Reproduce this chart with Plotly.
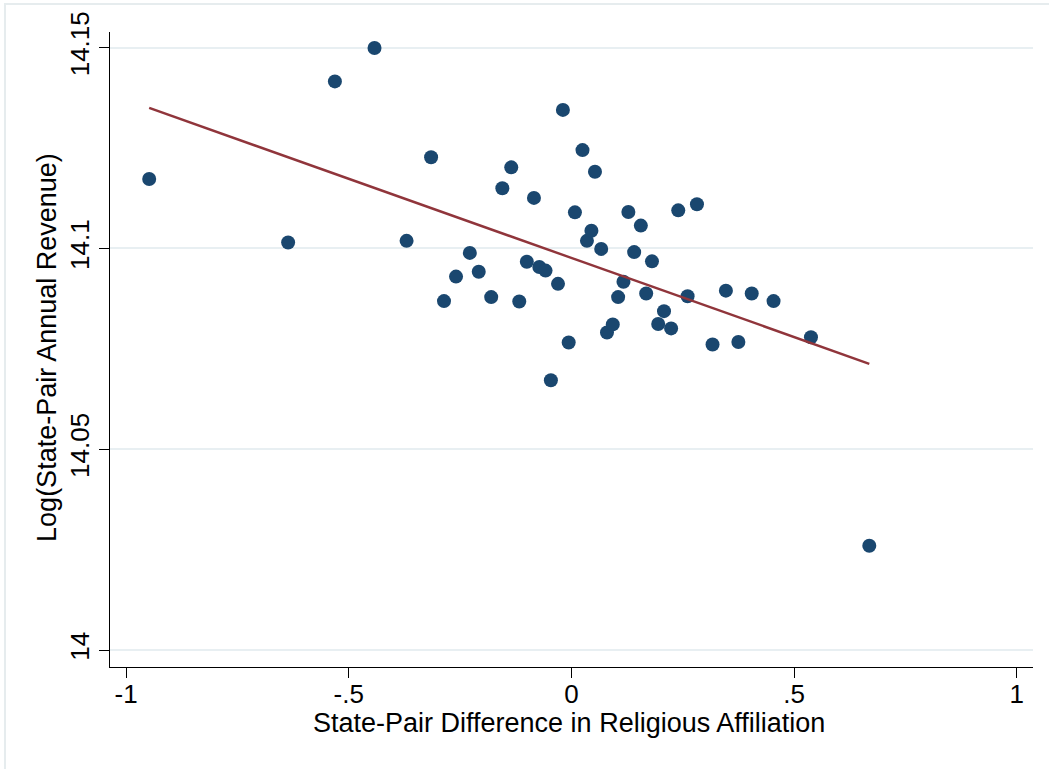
import plotly.graph_objects as go

# Religious affiliation difference (x) vs log annual revenue (y), one point per state pair
religion_diff = [
    -0.948, -0.636, -0.531, -0.442, -0.315, -0.370, -0.228, -0.259, -0.208, -0.286,
    -0.180, -0.155, -0.135, -0.084, -0.100, -0.117, -0.072, -0.058, -0.030, -0.046,
    -0.019, -0.006, 0.008, 0.025, 0.053, 0.035, 0.045, 0.067, 0.080, 0.093,
    0.105, 0.117, 0.128, 0.141, 0.156, 0.168, 0.181, 0.195, 0.208, 0.224,
    0.240, 0.261, 0.282, 0.317, 0.347, 0.375, 0.405, 0.454, 0.538, 0.669,
]
log_revenue = [
    14.1173, 14.1015, 14.1416, 14.1499, 14.1227, 14.1019, 14.0989, 14.0930, 14.0942, 14.0869,
    14.0879, 14.1150, 14.1202, 14.1126, 14.0967, 14.0868, 14.0954, 14.0945, 14.0912, 14.0672,
    14.1345, 14.0766, 14.1090, 14.1245, 14.1191, 14.1019, 14.1044, 14.0999, 14.0791, 14.0811,
    14.0879, 14.0917, 14.1091, 14.0991, 14.1057, 14.0888, 14.0968, 14.0812, 14.0844, 14.0801,
    14.1095, 14.0881, 14.1110, 14.0761, 14.0895, 14.0767, 14.0888, 14.0869, 14.0779, 14.0260,
]

# Linear fit, drawn across the observed range of x
fit_x = [-0.948, 0.669]
fit_y = [14.1350, 14.0713]

x_ticks = [-1, -0.5, 0, 0.5, 1]
x_tick_text = ["-1", "-.5", "0", ".5", "1"]
y_ticks = [14, 14.05, 14.1, 14.15]
y_tick_text = ["14", "14.05", "14.1", "14.15"]

x_title = "State-Pair Difference in Religious Affiliation"
y_title = "Log(State-Pair Annual Revenue)"

FONT = "Arial, Liberation Sans, sans-serif"
NAVY = "#1a476f"
MAROON = "#90353b"
GRID = "#e8eff2"

fig = go.Figure()
fig.add_trace(go.Scatter(
    x=religion_diff, y=log_revenue, mode="markers",
    marker=dict(color=NAVY, size=14, line=dict(width=0)),
    showlegend=False, hoverinfo="x+y",
))
fig.add_trace(go.Scatter(
    x=fit_x, y=fit_y, mode="lines",
    line=dict(color=MAROON, width=2.4),
    showlegend=False, hoverinfo="skip",
))

# outer graph-region frame
fig.add_shape(type="rect", xref="paper", yref="paper",
              x0=-0.1138, x1=1.2, y0=-0.3, y1=1.0441,
              line=dict(color="#e6ecee", width=2), layer="below")

# axis titles placed as annotations for exact positioning
fig.add_annotation(text=x_title, xref="paper", yref="paper",
                   x=0.4978, y=-0.0885, xanchor="center", yanchor="middle",
                   showarrow=False, font=dict(size=27))
fig.add_annotation(text=y_title, xref="paper", yref="paper",
                   x=-0.0683, y=0.504, xanchor="center", yanchor="middle",
                   textangle=-90, showarrow=False, font=dict(size=27))

fig.update_layout(
    width=1049, height=769,
    margin=dict(l=110, r=16, t=32, b=102, autoexpand=False),
    paper_bgcolor="white", plot_bgcolor="white",
    font=dict(family=FONT, size=26, color="black"),
    showlegend=False,
)
fig.update_xaxes(
    range=[-1.036, 1.0366], tickvals=x_ticks, ticktext=x_tick_text,
    showgrid=False, zeroline=False,
    showline=True, linecolor="black", linewidth=1.3,
    ticks="outside", ticklen=10, tickwidth=1.2, tickcolor="black",
    ticklabelstandoff=-6,
    automargin=False,
)
fig.update_yaxes(
    range=[13.9958, 14.1539], tickvals=y_ticks, ticktext=y_tick_text,
    tickangle=-90,
    showgrid=True, gridcolor=GRID, gridwidth=2, zeroline=False,
    showline=True, linecolor="black", linewidth=1.3,
    ticks="outside", ticklen=10, tickwidth=1.2, tickcolor="black",
    ticklabelstandoff=-1,
    automargin=False,
)

fig.write_html("out.html")
